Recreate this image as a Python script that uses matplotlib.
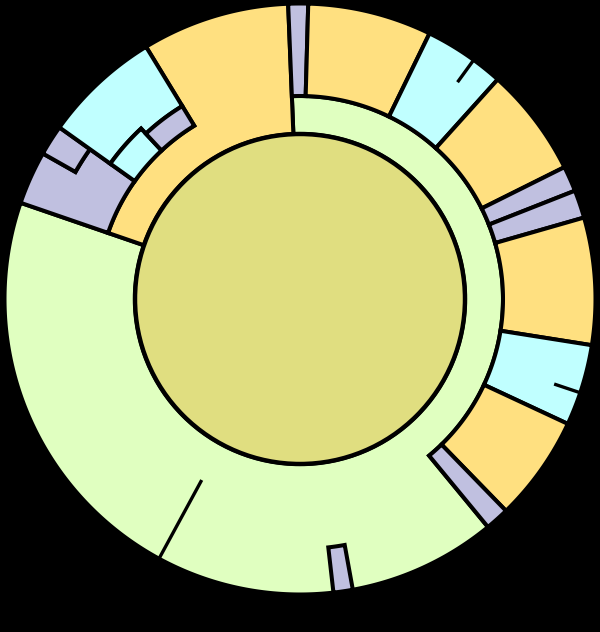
import numpy as np
import matplotlib
matplotlib.use("Agg")
import matplotlib.pyplot as plt
from matplotlib.patches import Polygon, Circle

# ---------------- data: angular values (degrees of the full circle) ----------------
start_angle = -2.3
level1_values = [291.3, 68.7]                 # green branch, orange branch
level1_colors = ["green", "orange"]

# children of the green branch (clockwise from the top)
green_children_values = [3.9, 24.4, 16.0, 21.5, 5.0, 5.5, 25.0, 16.0, 20.8, 4.7, 68.0, 80.5]
green_children_colors = ["purple", "orange", "cyan", "orange", "purple", "purple",
                         "orange", "cyan", "orange", "purple", "green", "green"]
# grandchildren splits
cyan1_children_values = [10.0, 6.0]
cyan2_children_values = [9.5, 6.5]
green_leaf_children_values = [29.2, 3.8, 35.0]
green_leaf_children_colors = ["green", "purple", "green"]

# children of the orange branch
orange_children_values = [16.5, 23.1, 29.1]   # purple group, cyan group, orange leaf
orange_children_colors = ["purple", "cyan", "orange"]
purple_group_children_values = [10.5, 6.0]
cyan_group_children_values = [11.5, 11.6]
cyan_group_children_colors = ["cyan", "purple"]

# ---------------- style / layout ----------------
COL = {"olive": "#e0de80", "green": "#e0ffc0", "orange": "#ffe080",
       "cyan": "#c0ffff", "purple": "#c0c0e0"}
CX, CY = 300, 299
R0, R1, ROUT = 165, 203, 295.5
LW = 2.9

fig = plt.figure(figsize=(6, 6.32), dpi=100, facecolor="black")
ax = fig.add_axes([0, 0, 1, 1])
ax.set_xlim(0, 600)
ax.set_ylim(632, 0)
ax.axis("off")
ax.set_facecolor("black")


def pt(theta, r):
    a = np.deg2rad(theta - 90)
    return (CX + r * np.cos(a), CY + r * np.sin(a))


def region(pieces, color, lw=LW, z=2):
    inner, outer = [], []
    for t0, t1, ri, ro in pieces:
        n = max(2, int(abs(t1 - t0) * 2) + 2)
        ts = np.linspace(t0, t1, n)
        inner += [pt(t, ri) for t in ts]
        outer += [pt(t, ro) for t in ts]
    poly = inner + outer[::-1]
    ax.add_patch(Polygon(poly, closed=True, fc=COL[color], ec="black",
                         lw=lw, joinstyle="miter", zorder=z))


def radial(theta, r0, r1, lw=LW, z=5):
    p0, p1 = pt(theta, r0), pt(theta, r1)
    ax.plot([p0[0], p1[0]], [p0[1], p1[1]], color="black", lw=lw,
            solid_capstyle="butt", zorder=z)


def cum(start, values):
    edges = [start]
    for v in values:
        edges.append(edges[-1] + v)
    return edges


# level 1
l1 = cum(start_angle, level1_values)
g0, g1 = l1[0], l1[1]
o0, o1 = l1[1], l1[2]

# ---- green branch ----
ge = cum(g0, green_children_values)
pieces = []
for i, c in enumerate(green_children_colors):
    pieces.append((ge[i], ge[i + 1], R0, ROUT if c == "green" else R1))
region(pieces, "green", z=1)
for i, c in enumerate(green_children_colors):
    if c != "green":
        region([(ge[i], ge[i + 1], R1, ROUT)], c, z=3)
# split between the two green leaves
green_idx = [i for i, c in enumerate(green_children_colors) if c == "green"]
for i in green_idx[1:]:
    radial(ge[i], R1 + 3, ROUT, lw=2.4)
# small purple inside first green leaf
gl = cum(ge[green_idx[0]], green_leaf_children_values)
for i, c in enumerate(green_leaf_children_colors):
    if c != "green":
        region([(gl[i], gl[i + 1], 250, ROUT)], c, z=3)
# notches inside the cyan boxes
cyan_idx = [i for i, c in enumerate(green_children_colors) if c == "cyan"]
for idx, vals in zip(cyan_idx, [cyan1_children_values, cyan2_children_values]):
    ce = cum(ge[idx], vals)
    radial(ce[1], 268, ROUT, lw=2.4)

# ---- orange branch ----
oe = cum(o0, orange_children_values)
region([(o0, oe[2], R0, R1), (oe[2], o1, R0, ROUT)], "orange", z=1)
# purple group
pe = cum(oe[0], purple_group_children_values)
region([(pe[0], pe[1], R1, ROUT), (pe[1], pe[2], R1, 258)], "purple", z=3)
region([(pe[1], pe[2], 258, ROUT)], "purple", z=3)
# cyan group (large cyan on the outside, two small boxes inside)
ce = cum(oe[1], cyan_group_children_values)
inner_tops = [233, 226]
region([(ce[0], ce[1], inner_tops[0], ROUT), (ce[1], ce[2], inner_tops[1], ROUT)],
       "cyan", z=3)
for i, c in enumerate(cyan_group_children_colors):
    region([(ce[i], ce[i + 1], R1, inner_tops[i])], c, z=3)

# ---- root ----
ax.add_patch(Circle((CX, CY), R0, fc=COL["olive"], ec="black", lw=3.2, zorder=6))

fig.savefig("out.png", dpi=100, facecolor="black")
